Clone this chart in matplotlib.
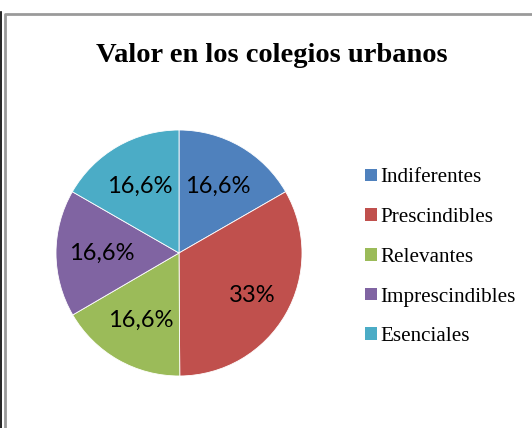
import numpy as np
import matplotlib.pyplot as plt
from matplotlib.lines import Line2D
from matplotlib.patches import Patch

categories = ["Indiferentes", "Prescindibles", "Relevantes", "Imprescindibles", "Esenciales"]
values = [16.6, 33, 16.6, 16.6, 16.6]
colors = ["#4F81BD", "#C0504D", "#9BBB59", "#8064A2", "#4BACC6"]
title = "Valor en los colegios urbanos"

W, H = 532, 428
fig = plt.figure(figsize=(W / 100, H / 100), dpi=100)

# outer frame like the copied Excel chart
fig.add_artist(Line2D([1 / W, 1 / W], [0, 1 - 12 / H], color="black", lw=1.2))
fig.add_artist(Line2D([4.5 / W, 4.5 / W, 1], [0, 1 - 13.5 / H, 1 - 13.5 / H],
                      color="#9a9a9a", lw=2))

cx, cy, r = 179, 253, 123
ax = fig.add_axes([(cx - r) / W, (H - cy - r) / H, 2 * r / W, 2 * r / H])

labels = [f"{v:g}".replace(".", ",") + "%" for v in values]
wedges, _ = ax.pie(values, colors=colors, startangle=90, counterclock=False,
                   radius=1, wedgeprops=dict(edgecolor="white", linewidth=0.6))
total = sum(values)
ang = 90.0
for v, lab in zip(values, labels):
    span = v / total * 360
    mid = np.deg2rad(ang - span / 2)
    d = 0.69 if v > 20 else 0.63
    ax.text(d * np.cos(mid), d * np.sin(mid), lab, ha="center", va="center",
            fontsize=17, family="Lato")
    ang -= span
ax.set_xlim(-1, 1)
ax.set_ylim(-1, 1)
ax.set_aspect("equal")
ax.axis("off")

fig.text(272 / W, 1 - 55 / H, title, ha="center", va="center",
         fontsize=20.5, fontweight="bold", family="Liberation Serif")

handles = [Patch(facecolor=c, edgecolor="none") for c in colors]
fig.legend(handles, categories, loc="upper left", bbox_to_anchor=(357 / W, 1 - 160 / H),
           frameon=False, prop={"family": "Liberation Serif", "size": 15.2},
           handlelength=0.55, handleheight=0.55, handletextpad=0.15, labelspacing=0.98,
           borderaxespad=0)

fig.savefig("out.png", dpi=100)
